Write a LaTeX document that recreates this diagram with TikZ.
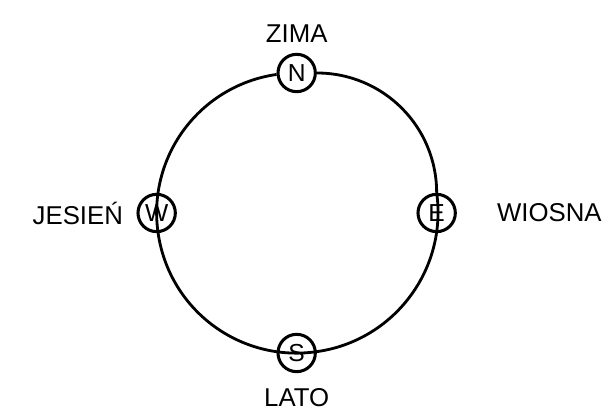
\documentclass[tikz,border=0pt]{standalone}
\usepackage{fontspec}
\setmainfont{Liberation Sans}
\usetikzlibrary{positioning}

\begin{document}
\begin{tikzpicture}[
  dir/.style={draw, circle, line width=2.6pt, fill=white, minimum size=1.12cm,
    inner sep=0pt, font=\fontsize{21}{24}\selectfont},
  season/.style={inner sep=0pt, font=\fontsize{22}{26}\selectfont},
  ring/.style={line width=2.4pt}]
\useasboundingbox (0,0) rectangle (18.15,12.54);
\node[dir] (n) at (8.9,10.35) {N};
\node[dir] (e) at (13.1,6.15) {E};
\node[dir] (s) at (8.9,1.95) {S};
\node[dir] (w) at (4.7,6.15) {W};
\draw[ring] (n) to[bend left=45] (e) to[bend left=45] (s)
  to[bend left=45] (w) to[bend left=45] (n);
\node[season, above=0.3cm of n] (zima) {ZIMA};
\node[season, right=1.2cm of e] (wiosna) {WIOSNA};
\node[season, below=0.45cm of s] (lato) {LATO};
\node[season, left=0.4cm of w] (jesien) {JESIEŃ};
\end{tikzpicture}
\end{document}
